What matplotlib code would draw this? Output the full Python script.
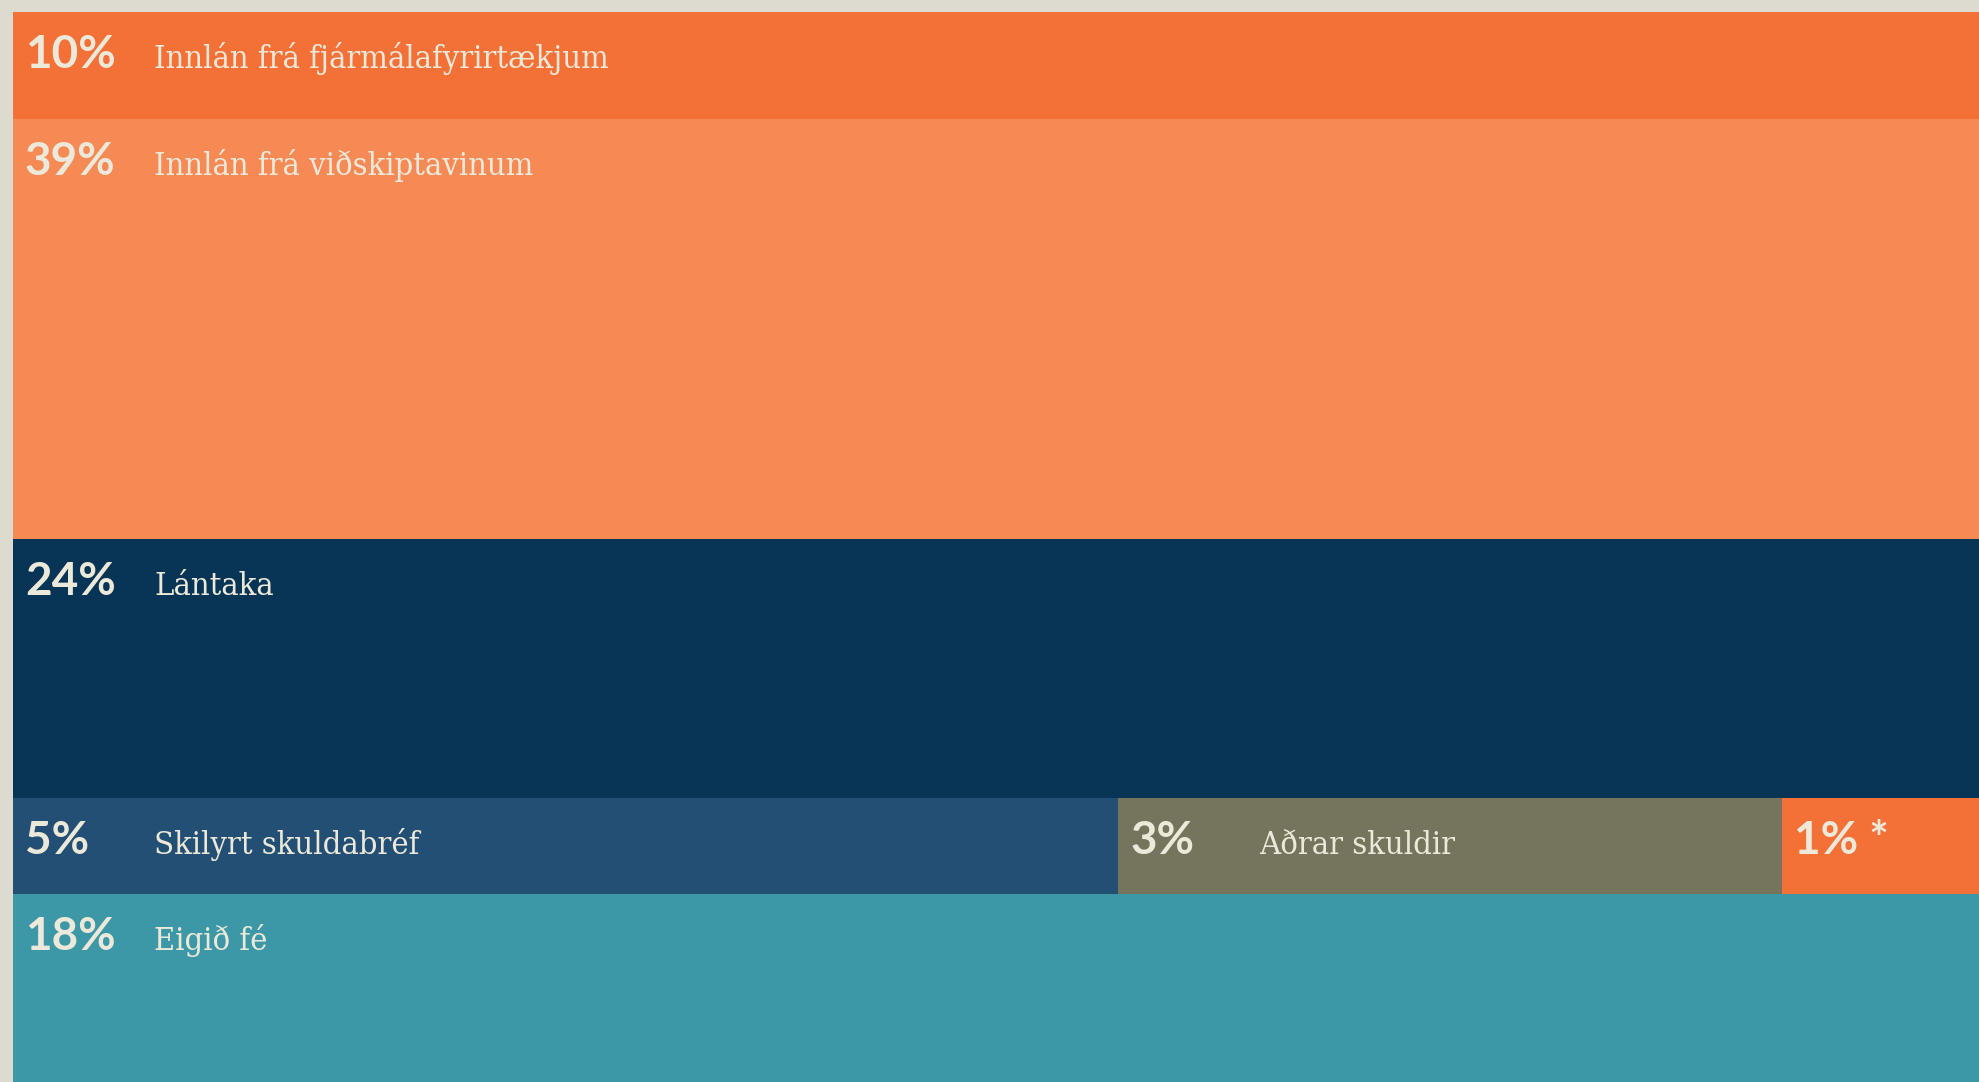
import matplotlib
matplotlib.use("Agg")
import matplotlib.pyplot as plt

# liabilities and equity, share of total (%)
names = ["Innlán frá fjármálafyrirtækjum", "Innlán frá viðskiptavinum", "Lántaka",
         "Skilyrt skuldabréf", "Aðrar skuldir", "", "Eigið fé"]
shares = [10.0, 39.3, 24.2, 5.06, 3.04, 0.9, 17.6]
pct_labels = ["10%", "39%", "24%", "5%", "3%", "1% *", "18%"]
rows = [0, 1, 2, 3, 3, 3, 4]
colors = ["#F37036", "#F58A55", "#083456", "#234F75", "#75755D", "#F37036", "#3C97A6"]

bg = "#DDDBD0"
txt = "#ECE9DA"

fig = plt.figure(figsize=(19.79, 10.82), dpi=100, facecolor=bg)
ax = fig.add_axes([13 / 1979, 0, 1 - 13 / 1979, 1 - 12 / 1082])
ax.set_facecolor(bg)

n_rows = max(rows) + 1
row_h = [sum(s for s, r in zip(shares, rows) if r == i) for i in range(n_rows)]
row_top = [sum(row_h[:i]) for i in range(n_rows)]
used = [0.0] * n_rows

for name, s, pl, r, c in zip(names, shares, pct_labels, rows, colors):
    w = s / row_h[r]
    left = used[r]
    used[r] += w
    ax.barh(row_top[r], w, left=left, height=row_h[r], align="edge",
            color=c, edgecolor="none")
    ax.annotate(pl, (left, row_top[r]), xytext=(12, -56), textcoords="offset pixels",
                ha="left", va="baseline", color=txt, fontsize=33,
                fontweight="bold", family="Lato")
    if name:
        ax.annotate(name, (left, row_top[r]), xytext=(141, -56), textcoords="offset pixels",
                    ha="left", va="baseline", color=txt, fontsize=23.4,
                    family="DejaVu Serif", fontstretch="condensed")

ax.set_xlim(0, 1)
ax.set_ylim(sum(row_h), 0)
ax.axis("off")

fig.savefig("out.png", dpi=100, facecolor=bg)
